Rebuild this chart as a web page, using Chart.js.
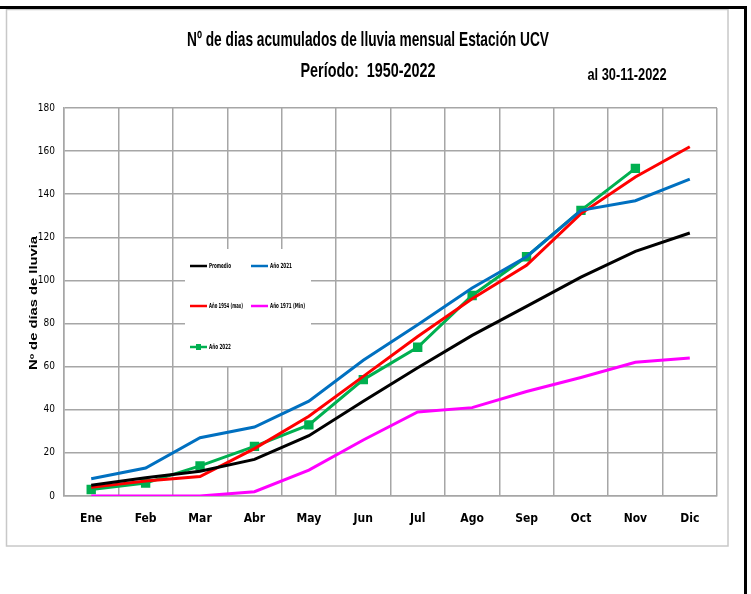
<!DOCTYPE html>
<html>
<head>
<meta charset="utf-8">
<script src="https://cdn.jsdelivr.net/npm/chart.js@4"></script>
<style>
  html, body { margin: 0; padding: 0; background: #fff; }
  #wrap { width: 751px; height: 594px; position: relative; }
</style>
</head>
<body>
<div id="wrap"><canvas id="grafico" width="751" height="594"></canvas></div>
<script>
// datos
const meses = ['Ene', 'Feb', 'Mar', 'Abr', 'May', 'Jun', 'Jul', 'Ago', 'Sep', 'Oct', 'Nov', 'Dic'];
const promedio = [5, 8.5, 11.5, 17, 28, 44, 59.5, 74.5, 88, 101.5, 113.5, 122];
const anio2021 = [8, 13, 27, 32, 44, 63, 79.5, 96.5, 111, 132.5, 137, 147];
const anio1954 = [4, 7, 9, 22, 37, 55.5, 74, 91.5, 107, 131, 148, 162];
const anio1971 = [0, 0, 0, 2, 12, 26, 39, 41, 48.5, 55, 62, 64];
const anio2022 = [3, 6, 14, 23, 33, 54, 69, 93, 111, 132.5, 152, null];
const yTicks = [0, 20, 40, 60, 80, 100, 120, 140, 160, 180];

const fuente = '"DejaVu Sans Condensed", "Liberation Sans Narrow", "Arial Narrow", sans-serif';

// texto ajustado a un ancho (la fuente original es mas estrecha)
function textoAjustado(c, txt, x, y, ancho) {
    const w = c.measureText(txt).width;
    c.save();
    c.translate(x, y);
    c.scale(ancho / w, 1);
    c.fillText(txt, 0, 0);
    c.restore();
}

// marco, titulos y leyenda dibujados a mano
const decoracion = {
    id: 'decoracion',
    beforeDraw(chart) {
        const c = chart.ctx;
        c.save();
        c.fillStyle = '#fff';
        c.fillRect(0, 0, chart.width, chart.height);
        c.strokeStyle = '#c8c8c8';
        c.lineWidth = 1.5;
        c.strokeRect(6.5, 9.5, 721.5, 536.5);
        c.strokeStyle = '#000';
        c.lineWidth = 3;
        c.beginPath();
        c.moveTo(0, 7.5); c.lineTo(747, 7.5);
        c.moveTo(745.5, 6); c.lineTo(745.5, 594);
        c.stroke();
        c.restore();
    },
    afterDraw(chart) {
        const c = chart.ctx;
        c.save();
        c.fillStyle = '#000';
        c.textAlign = 'center';
        c.textBaseline = 'middle';
        c.font = 'bold 21px "Liberation Sans", Arial, sans-serif';
        textoAjustado(c, 'Nº de dias acumulados de lluvia mensual Estación UCV', 368, 40, 362);
        textoAjustado(c, 'Período:  1950-2022', 368, 71, 135);
        c.font = 'bold 16px "Liberation Sans", Arial, sans-serif';
        textoAjustado(c, 'al 30-11-2022', 627, 76, 79);

        c.font = 'bold 10px "Liberation Sans", Arial, sans-serif';
        c.translate(34, 303);
        c.rotate(-Math.PI / 2);
        textoAjustado(c, 'Nº de días de lluvia', 0, 0, 134);
        c.restore();

        // leyenda dentro del area del grafico
        c.save();
        c.fillStyle = '#fff';
        c.fillRect(185, 249, 126, 117);
        const items = [
            { t: 'Promedio', col: '#000000', x: 190, y: 266, w: 22 },
            { t: 'Año 2021', col: '#0070c0', x: 251, y: 266, w: 22 },
            { t: 'Año 1954 (max)', col: '#ff0000', x: 190, y: 306, w: 34 },
            { t: 'Año 1971 (Min)', col: '#ff00ff', x: 251, y: 306, w: 35 },
            { t: 'Año 2022', col: '#00b050', x: 190, y: 347, w: 22, marca: true }
        ];
        c.font = 'bold 7px ' + fuente;
        c.textAlign = 'left';
        c.textBaseline = 'middle';
        items.forEach(it => {
            c.strokeStyle = it.col;
            c.lineWidth = 2.5;
            c.beginPath();
            c.moveTo(it.x, it.y); c.lineTo(it.x + 17, it.y);
            c.stroke();
            if (it.marca) {
                c.fillStyle = it.col;
                c.fillRect(it.x + 6, it.y - 3, 5, 6);
            }
            c.fillStyle = '#000';
            textoAjustado(c, it.t, it.x + 19, it.y, it.w);
        });
        c.restore();
    }
};

const ctx = document.getElementById('grafico').getContext('2d');
new Chart(ctx, {
    type: 'line',
    data: {
        labels: meses,
        datasets: [
            { label: 'Promedio', data: promedio, borderColor: '#000000', borderWidth: 3, pointRadius: 0 },
            { label: 'Año 2021', data: anio2021, borderColor: '#0070c0', borderWidth: 3, pointRadius: 0 },
            { label: 'Año 1954 (max)', data: anio1954, borderColor: '#ff0000', borderWidth: 3, pointRadius: 0 },
            { label: 'Año 1971 (Min)', data: anio1971, borderColor: '#ff00ff', borderWidth: 3, pointRadius: 0 },
            {
                label: 'Año 2022', data: anio2022, borderColor: '#00b050', borderWidth: 3,
                pointStyle: 'rect', pointRadius: 4.5, pointBackgroundColor: '#00b050', pointBorderColor: '#00b050'
            }
        ]
    },
    options: {
        responsive: false,
        animation: false,
        layout: { padding: { left: 0, top: 108, right: 34, bottom: 0 } },
        plugins: { legend: { display: false }, tooltip: { enabled: false } },
        scales: {
            x: {
                offset: true,
                grid: { offset: true, color: '#a6a6a6', lineWidth: 1.5, drawTicks: false },
                border: { color: '#a6a6a6', width: 1.5 },
                ticks: { color: '#000', padding: 16, font: { family: fuente, size: 12, weight: 'bold' } },
                afterFit(s) { s.height = 98; }
            },
            y: {
                min: 0, max: 180,
                afterBuildTicks(s) { s.ticks = yTicks.map(v => ({ value: v })); },
                grid: { color: '#a6a6a6', lineWidth: 1.5, drawTicks: false },
                border: { color: '#a6a6a6', width: 1.5 },
                ticks: { color: '#000', padding: 9, font: { family: fuente, size: 10 } },
                afterFit(s) { s.width = 64; }
            }
        }
    },
    plugins: [decoracion]
});
</script>
</body>
</html>
